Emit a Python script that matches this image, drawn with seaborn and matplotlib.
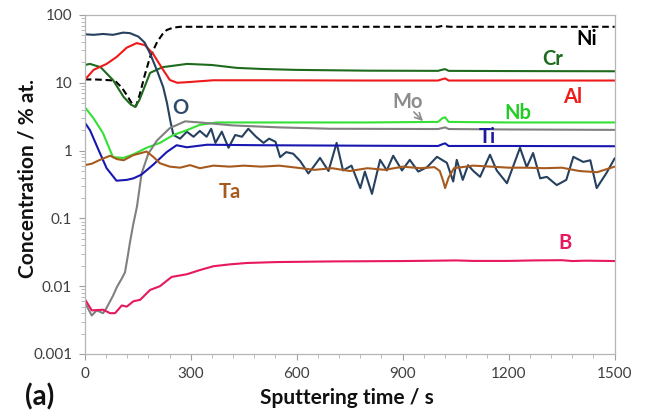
import numpy as np
import pandas as pd
import matplotlib
matplotlib.use("Agg")
import matplotlib.pyplot as plt
from matplotlib.ticker import FixedLocator, LogLocator, NullFormatter, FuncFormatter, MultipleLocator
import seaborn as sns

# Depth profile: sputtering time (s) and concentration (% at.) per element
t_ni = [0, 30, 60, 85, 105, 120, 135, 145, 155, 170, 185, 205, 220, 232, 250, 270, 300, 400, 600, 800, 1000, 1012, 1020, 1035, 1200, 1500]
ni = [11.2, 11.2, 11.0, 10.8, 8.5, 6.5, 4.8, 4.5, 6.5, 13, 24, 40, 52, 60, 65, 67, 67, 67, 67, 67, 67, 69, 68, 67, 67, 67]

t_cr = [0, 15, 45, 80, 110, 130, 143, 155, 165, 185, 220, 290, 360, 430, 500, 600, 800, 1000, 1012, 1020, 1030, 1200, 1500]
cr = [18.3, 19, 17, 11, 6.2, 4.8, 4.4, 5.6, 7.6, 14, 17, 19, 18.3, 16.6, 16, 15.5, 15.1, 15, 15.6, 15.9, 15, 14.9, 14.8]

t_al = [0, 25, 62, 90, 119, 147, 170, 193, 222, 241, 262, 300, 364, 500, 800, 1000, 1012, 1020, 1030, 1200, 1500]
al = [11, 15.5, 19, 24, 33, 38.5, 36, 27, 15.5, 11, 10, 10.3, 10.9, 10.9, 10.8, 10.8, 11.3, 11.6, 10.8, 10.8, 10.8]

t_o = [0, 25, 52, 80, 109, 128, 152, 170, 185, 204, 222, 233, 242, 251, 270, 289, 308, 326, 345, 358, 370, 388,
       407, 426, 445, 463, 485, 506, 522, 540, 553, 570, 590, 610, 633, 650, 666, 690, 713, 731, 755, 780, 793,
       813, 836, 855, 873, 898, 920, 944, 969, 997, 1025, 1043, 1053, 1070, 1085, 1100, 1119, 1147, 1166, 1195,
       1232, 1251, 1269, 1289, 1308, 1336, 1363, 1383, 1411, 1431, 1449, 1477, 1500]
o = [52, 51, 52.5, 51, 55, 54, 48, 39, 27, 15.5, 8.7, 5, 2.8, 1.7, 1.5, 1.9, 1.6, 1.95, 1.6, 2.1, 1.3, 1.9,
     1.1, 1.7, 1.6, 2.1, 1.6, 1.3, 1.5, 1.35, 0.8, 0.95, 0.9, 0.7, 0.46, 0.6, 0.78, 0.5, 1.3, 0.51, 0.6, 0.28, 0.49,
     0.23, 0.73, 0.51, 0.84, 0.51, 0.73, 0.49, 0.57, 0.81, 0.66, 0.35, 0.73, 0.37, 0.61, 0.5, 0.41, 0.87, 0.51, 0.33,
     1.1, 0.57, 0.92, 0.39, 0.41, 0.31, 0.37, 0.81, 0.68, 0.72, 0.28, 0.47, 0.77]

t_nb = [0, 25, 52, 80, 110, 138, 175, 213, 251, 289, 326, 374, 440, 600, 800, 1000, 1012, 1020, 1030, 1200, 1500]
nb = [4.4, 3.0, 1.8, 0.8, 0.78, 0.88, 1.1, 1.3, 1.7, 2.0, 2.4, 2.6, 2.6, 2.6, 2.6, 2.65, 3.0, 3.1, 2.65, 2.6, 2.6]

t_mo = [0, 20, 34, 52, 62, 80, 91, 105, 114, 122, 128, 137, 148, 161, 180, 204, 241, 284, 326, 420, 550, 695,
        1000, 1012, 1020, 1030, 1200, 1500]
mo = [0.0058, 0.0037, 0.0044, 0.0040, 0.0048, 0.0072, 0.0097, 0.013, 0.016, 0.028, 0.044, 0.08, 0.15, 0.46, 0.9,
      1.4, 2.15, 2.7, 2.6, 2.35, 2.2, 2.1, 2.08, 2.15, 2.2, 2.08, 2.05, 2.02]

t_ti = [0, 15, 40, 62, 90, 119, 138, 160, 194, 232, 260, 289, 346, 500, 800, 1000, 1012, 1020, 1030, 1200, 1500]
ti = [2.6, 2.0, 1.0, 0.55, 0.36, 0.37, 0.39, 0.44, 0.62, 0.95, 1.2, 1.12, 1.22, 1.2, 1.18, 1.17, 1.24, 1.28, 1.17, 1.17, 1.16]

t_ta = [0, 20, 43, 72, 91, 110, 138, 160, 175, 194, 213, 241, 270, 298, 326, 364, 411, 450, 500, 550, 600, 650,
        700, 750, 800, 850, 900, 950, 990, 1005, 1015, 1020, 1030, 1045, 1100, 1150, 1200, 1250, 1300, 1350,
        1400, 1450, 1500]
ta = [0.61, 0.64, 0.73, 0.84, 0.75, 0.72, 0.86, 0.92, 0.97, 0.81, 0.65, 0.58, 0.56, 0.61, 0.55, 0.6, 0.58, 0.6,
      0.58, 0.6, 0.56, 0.52, 0.55, 0.5, 0.55, 0.52, 0.58, 0.55, 0.57, 0.5, 0.35, 0.28, 0.4, 0.55, 0.6, 0.58,
      0.56, 0.56, 0.55, 0.56, 0.5, 0.48, 0.58]

t_b = [0, 20, 52, 72, 86, 105, 119, 138, 157, 185, 213, 246, 289, 326, 364, 411, 459, 544, 700, 900, 1000, 1050,
       1100, 1200, 1270, 1350, 1380, 1420, 1500]
b = [0.0065, 0.0044, 0.0045, 0.0040, 0.0040, 0.0052, 0.0050, 0.0060, 0.0063, 0.0088, 0.010, 0.0137, 0.015, 0.0173,
     0.0197, 0.021, 0.022, 0.0227, 0.0232, 0.0235, 0.0238, 0.024, 0.0236, 0.0236, 0.024, 0.0242, 0.0235, 0.0238,
     0.0235]

elements = ["Ni", "Cr", "Al", "O", "Nb", "Mo", "Ti", "Ta", "B"]
series = {"Ni": (t_ni, ni), "Cr": (t_cr, cr), "Al": (t_al, al), "O": (t_o, o), "Nb": (t_nb, nb),
          "Mo": (t_mo, mo), "Ti": (t_ti, ti), "Ta": (t_ta, ta), "B": (t_b, b)}
colors = {"Ni": "#000000", "Cr": "#1E6B1E", "Al": "#EE1A1A", "O": "#26405F", "Nb": "#33E033",
          "Mo": "#808080", "Ti": "#1818B0", "Ta": "#A65A1E", "B": "#E8185E"}
label_colors = {"Ni": "#000000", "Cr": "#1E6B1E", "Al": "#EE1A1A", "O": "#2F4A6B", "Nb": "#22CC22",
                "Mo": "#8C8C8C", "Ti": "#1A1A9E", "Ta": "#A65A1E", "B": "#E8185E"}

df = pd.concat([pd.DataFrame({"time": t, "conc": v, "element": el})
                for el, (t, v) in series.items()], ignore_index=True)

sns.set_theme(style="white")
plt.rcParams["font.family"] = ["Lato", "DejaVu Sans"]

fig = plt.figure(figsize=(6.47, 4.13), dpi=100)
ax = fig.add_axes([84.7 / 647, 1 - 354 / 413, 530 / 647, 339 / 413])

dashes = {el: "" for el in elements}
dashes["Ni"] = (3.2, 1.8)
sns.lineplot(data=df, x="time", y="conc", hue="element", style="element", hue_order=elements,
             style_order=elements, palette=colors, dashes=dashes, estimator=None, sort=False,
             linewidth=1.5, legend=False, ax=ax)

ax.set_yscale("log")
ax.set_ylim(0.001, 100)
ax.set_xlim(0, 1500)
ax.xaxis.set_major_locator(MultipleLocator(300))
ax.xaxis.set_minor_locator(MultipleLocator(60))
ax.yaxis.set_major_locator(FixedLocator([0.001, 0.01, 0.1, 1, 10, 100]))
ax.yaxis.set_minor_locator(LogLocator(base=10, subs=np.arange(2, 10)))
ax.yaxis.set_minor_formatter(NullFormatter())
ax.yaxis.set_major_formatter(FuncFormatter(lambda v, p: f"{v:g}"))
ax.tick_params(axis="both", which="major", direction="out", length=4, width=0.8, color="#A0A0A0",
               labelsize=11, labelcolor="#404040", pad=5)
ax.tick_params(axis="both", which="minor", direction="out", length=3, width=0.6, color="#B0B0B0")
ax.tick_params(axis="x", which="both", bottom=True)
ax.tick_params(axis="y", which="both", left=True)
for sp in ax.spines.values():
    sp.set_color("#B5B5B5")
    sp.set_linewidth(0.9)
ax.set_xlabel("")
ax.set_ylabel("")

fig.text(347 / 647, 1 - 398 / 413, "Sputtering time / s", ha="center", va="center",
         fontsize=15, fontweight="bold", color="#111111")
fig.text(27 / 647, 1 - 179 / 413, "Concentration / % at.", ha="center", va="center",
         rotation=90, fontsize=15, fontweight="bold", color="#111111")
fig.text(40 / 647, 1 - 397 / 413, "(a)", ha="center", va="center", fontsize=20,
         fontweight="bold", color="#111111")

# element labels next to their profiles
labels = {"Ni": (1422, 45), "Cr": (1325, 22.4), "Al": (1382, 6.2), "Nb": (1226, 3.6),
          "Mo": (915, 5.2), "Ti": (1139, 1.58), "O": (270, 4.2), "Ta": (411, 0.245), "B": (1360, 0.043)}
for el, (x, y) in labels.items():
    ax.text(x, y, el, color=label_colors[el], fontsize=14.5, fontweight="bold", ha="center", va="center")
ax.annotate("", xy=(963, 2.55), xytext=(926, 3.97),
            arrowprops=dict(arrowstyle="->", color="#8C8C8C", lw=1.2))

fig.savefig("out.png", dpi=100)
